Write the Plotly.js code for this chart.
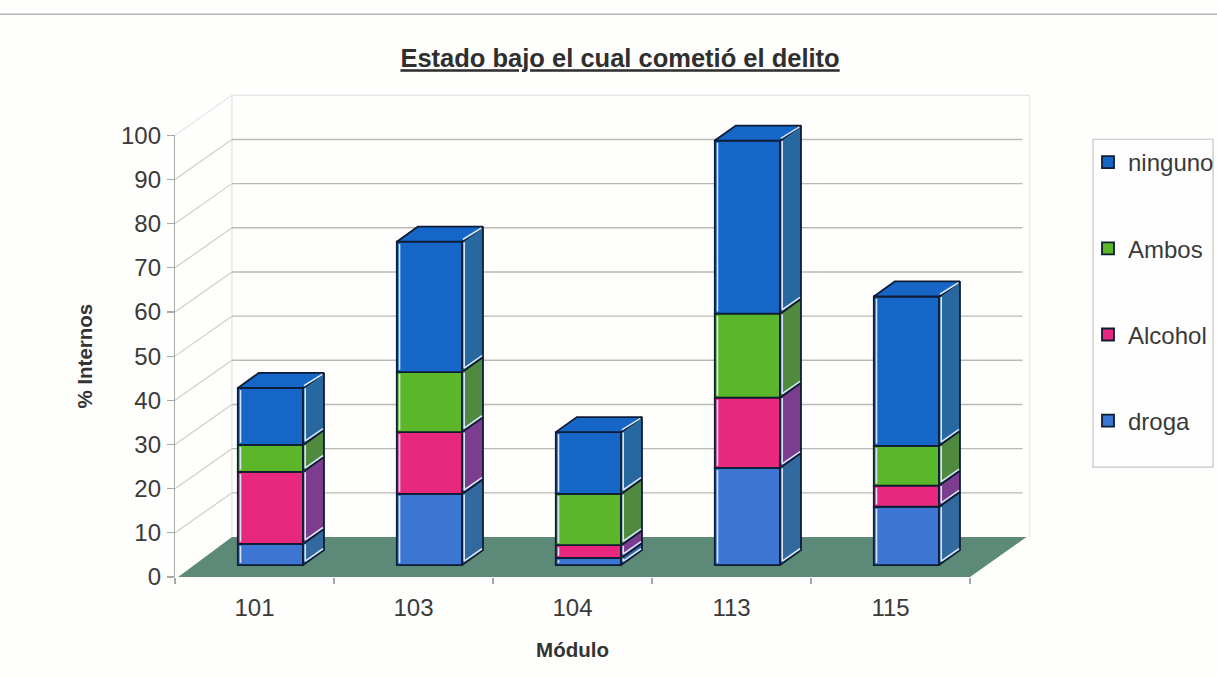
<!DOCTYPE html>
<html><head><meta charset="utf-8">
<script src="https://cdn.plot.ly/plotly-3.0.1.min.js"></script>
<style>html,body{margin:0;padding:0;background:#fefefd}</style></head>
<body><div id="chart" style="width:1217px;height:678px"></div>
<script>
// Data
const categories = ['101', '103', '104', '113', '115'];
const droga   = [4.8, 16.1, 1.6, 22.0, 13.2];
const alcohol = [16.3, 14.0, 2.9, 15.9, 4.8];
const ambos   = [6.1, 13.6, 11.6, 19.0, 9.0];
const ninguno = [12.9, 29.5, 14.0, 39.2, 33.8];

const seriesNames = ['droga', 'Alcohol', 'Ambos', 'ninguno'];
const seriesValues = [droga, alcohol, ambos, ninguno];
const frontColors = ['#3c76d2', '#e8287f', '#5cb62a', '#1666c8'];
const sideColors  = ['#32699f', '#7d3d8e', '#4f8a3f', '#26689f'];

// Pseudo-3D geometry, in axis units
const barCentre = 0.6, barWidth = 0.41, floorLift = 2.7;
const depthX = 0.132, depthY = 3.4;
const wallX = 0.358, wallY = 9.05;
const yHeadroom = 103;      // hidden overlay axis, so bar tops are not clipped at 100
const edge = '#0e1c34', glint = '#d5e4f8';

const traces = [];
const bases = categories.map(() => floorLift);
const sides = seriesNames.map(() => ({x: [], y: []}));
const glintX = [], glintY = [];
const topX = [], topY = [];

seriesValues.forEach((vals, s) => {
  const baseArr = bases.slice();
  traces.push({
    type: 'bar', name: seriesNames[s], legendgroup: seriesNames[s], legendrank: 4 - s,
    x: categories.map((c, i) => i + barCentre), y: vals, base: baseArr,
    width: barWidth, hoverinfo: 'skip',
    marker: {color: frontColors[s], line: {color: edge, width: 1.8}}
  });
  vals.forEach((v, i) => {
    const L = i + barCentre - barWidth / 2, R = L + barWidth;
    const b = baseArr[i], t = b + v;
    sides[s].x.push(R, R + depthX, R + depthX, R, R, null);
    sides[s].y.push(b, b + depthY, t + depthY, t, b, null);
    glintX.push(L + 0.017, L + 0.017, null);
    glintY.push(b + 0.5, t - 0.5, null);
    glintX.push(R + 0.014, R + 0.014, R + depthX - 0.006, null);
    glintY.push(t - 0.1, b + 0.9, b + depthY + 0.3, null);
    if (s === seriesValues.length - 1) {
      topX.push(L, R, R + depthX, L + depthX, L, null);
      topY.push(t, t, t + depthY, t + depthY, t, null);
      glintX.push(R + 0.006, R + depthX - 0.01, null);
      glintY.push(t + 0.5, t + depthY - 0.3, null);
    }
    bases[i] = t;
  });
});

sides.forEach((p, s) => traces.push({
  type: 'scatter', mode: 'lines', x: p.x, y: p.y, yaxis: 'y2', fill: 'toself',
  fillcolor: sideColors[s], line: {color: edge, width: 1.8},
  showlegend: false, hoverinfo: 'skip'
}));
traces.push({
  type: 'scatter', mode: 'lines', x: topX, y: topY, yaxis: 'y2', fill: 'toself',
  fillcolor: frontColors[3], line: {color: edge, width: 1.8},
  showlegend: false, hoverinfo: 'skip'
});
traces.push({
  type: 'scatter', mode: 'lines', x: glintX, y: glintY, yaxis: 'y2',
  line: {color: glint, width: 1.6}, connectgaps: false,
  showlegend: false, hoverinfo: 'skip'
});

// Axis units to paper
const px = u => u / 5, py = v => v / yHeadroom;
const segment = (x0, y0, x1, y1, color, width) => ({
  type: 'line', xref: 'paper', yref: 'paper', layer: 'below',
  x0: px(x0), y0: py(y0), x1: px(x1), y1: py(y1),
  line: {color: color, width: width}
});
const gridValues = [10, 20, 30, 40, 50, 60, 70, 80, 90];
const shapes = [];
shapes.push(segment(wallX, wallY, wallX, 100 + wallY, '#e2e2e2', 1.2));
shapes.push(segment(wallX, 100 + wallY, 5.375, 100 + wallY, '#dcdcdc', 1.2));
shapes.push(segment(5.375, wallY, 5.375, 100 + wallY, '#e8e8e8', 1.2));
shapes.push(segment(0, 100, wallX, 100 + wallY, '#e6e6e6', 1.2));
gridValues.forEach(v => {
  shapes.push(segment(wallX, v + wallY, 5.33, v + wallY, '#b9b9b6', 1.4));
  shapes.push(segment(0, v, wallX, v + wallY, '#cfcfcc', 1.2));
});
shapes.push({
  type: 'path', xref: 'paper', yref: 'paper', layer: 'below',
  path: `M ${px(0.02)} ${py(0)} L ${px(wallX)} ${py(wallY)} L ${px(5.355)} ${py(wallY)} L ${px(5)} ${py(0)} Z`,
  fillcolor: '#5d8a78', line: {width: 0}
});
shapes.push({type: 'line', xref: 'paper', yref: 'paper', layer: 'below',
  x0: -0.2201, x1: 1.3107, y0: 1.2367, y1: 1.2367, line: {color: '#b5b5b5', width: 1.4}});
shapes.push({type: 'rect', xref: 'paper', yref: 'paper', layer: 'below',
  x0: 1.1547, x1: 1.3057, y0: 0.2416, y1: 0.9621, fillcolor: '#fefefe',
  line: {color: '#c4c4c4', width: 1.2}});

const layout = {
  width: 1217, height: 678, autosize: false,
  margin: {l: 175, r: 247, t: 121.74, b: 101, pad: 0},
  paper_bgcolor: '#fefefd', plot_bgcolor: 'rgba(0,0,0,0)',
  barmode: 'overlay',
  font: {family: '"Liberation Sans", Arial, sans-serif', color: '#333'},
  title: {
    text: '<b><u>Estado bajo el cual cometió el delito</u></b>',
    font: {size: 25.5, color: '#2f2f2f'},
    xref: 'container', x: 0.5095, xanchor: 'center',
    yref: 'container', y: 0.914, yanchor: 'middle'
  },
  xaxis: {
    range: [0, 5], fixedrange: true, showgrid: false, zeroline: false, showline: false,
    tickmode: 'array', tickvals: categories.map((c, i) => i + 0.5), ticktext: categories,
    ticks: '', tickfont: {size: 24, color: '#3a3a3a'}, ticklabelstandoff: 14,
    minor: {tickmode: 'array', tickvals: [0, 1, 2, 3, 4, 5], ticks: 'outside', ticklen: 6,
            tickcolor: '#a8a8a8', tickwidth: 1.2, showgrid: false},
    title: {text: '<b>Módulo</b>', font: {size: 20.5, color: '#333'}, standoff: 22},
    automargin: false
  },
  yaxis: {
    domain: [0, 100 / yHeadroom],
    range: [0, 100], fixedrange: true, showgrid: false, zeroline: false,
    showline: true, linecolor: '#a8a8a8', linewidth: 1.2,
    tickmode: 'array', tickvals: [0, 10, 20, 30, 40, 50, 60, 70, 80, 90, 100],
    ticks: 'outside', ticklen: 7, tickcolor: '#a8a8a8', tickwidth: 1.2,
    tickfont: {size: 24, color: '#3a3a3a'}, ticklabelstandoff: 1,
    title: {text: '<b>% Internos</b>', font: {size: 20.5, color: '#333'}, standoff: 22},
    automargin: false
  },
  yaxis2: {
    domain: [0, 1], range: [0, yHeadroom], anchor: 'x', visible: false, fixedrange: true
  },
  legend: {
    xref: 'container', yref: 'container',
    x: 1088 / 1217, xanchor: 'left', y: 1 - 140 / 678, yanchor: 'top',
    traceorder: 'grouped', tracegroupgap: 52,
    bgcolor: 'rgba(0,0,0,0)', borderwidth: 0, itemwidth: 30,
    font: {size: 24, color: '#3a3a3a'}
  },
  shapes: shapes
};
Plotly.newPlot('chart', traces, layout, {displayModeBar: false, staticPlot: true});
</script></body></html>
